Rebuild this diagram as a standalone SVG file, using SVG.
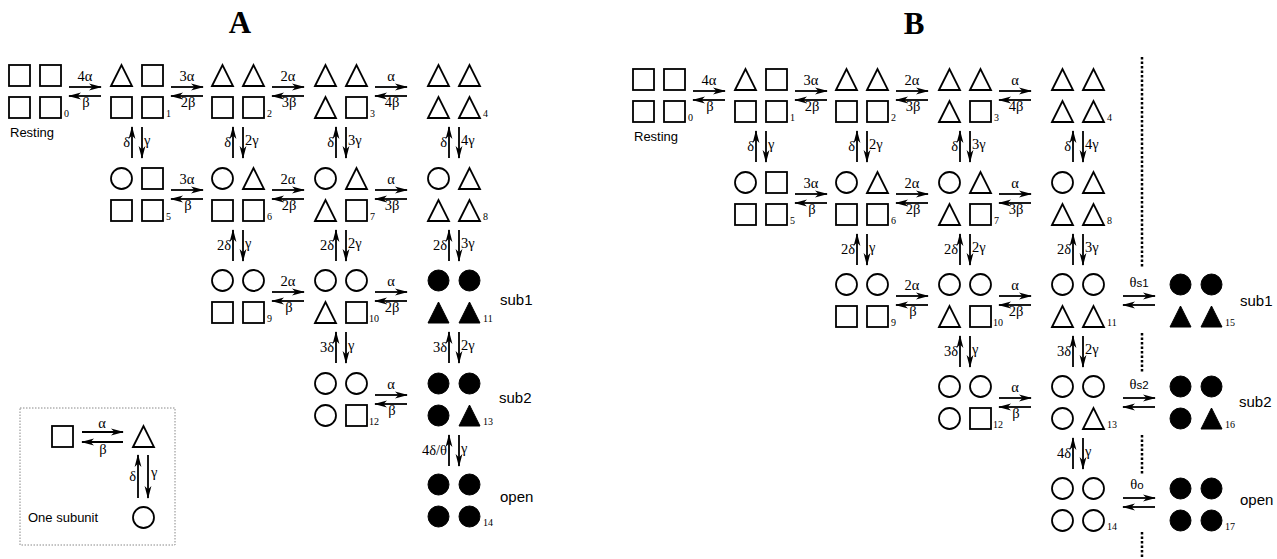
<svg xmlns="http://www.w3.org/2000/svg" xmlns:xlink="http://www.w3.org/1999/xlink" width="1277" height="559" viewBox="0 0 1277 559">
<style>
.s{fill:none;stroke:#000;stroke-width:1.8}
.f{fill:#000;stroke:#000;stroke-width:1}
.ar{stroke:#000;stroke-width:1.8;fill:none;marker-end:url(#ah)}
.g{font-family:"Liberation Serif",serif;font-size:14.5px;fill:#000}
.e{text-anchor:end}
.m{text-anchor:middle}
.n{font-family:"Liberation Serif",serif;font-size:10px;fill:#000}
.l{font-family:"Liberation Sans",sans-serif;font-size:15px;fill:#000}
.r{font-family:"Liberation Sans",sans-serif;font-size:13px;fill:#000}
.t{font-family:"Liberation Serif",serif;font-size:31px;font-weight:bold;fill:#000;text-anchor:middle}
.d{fill:none;stroke:#000;stroke-width:2.5;stroke-dasharray:2.5 2}
.bx{fill:none;stroke:#888;stroke-width:1;stroke-dasharray:1.5 1.5}
.ss{font-family:"Liberation Sans",sans-serif;font-size:11.5px}
</style>
<defs>
<rect id="sq" width="21" height="21"/>
<polygon id="tr" points="0,21 10.5,0 21,21"/>
<circle id="ci" cx="10.5" cy="10.5" r="10.5"/>
<marker id="ah" markerUnits="userSpaceOnUse" markerWidth="13" markerHeight="8" viewBox="0 0 13 8" refX="12" refY="4" orient="auto"><path d="M0,0.6 L13,4 L0,7.4 L3.5,4 z" fill="#000"/></marker>
</defs>
<rect width="1277" height="559" fill="#fff"/>
<text class="t" x="240" y="33">A</text>
<text class="t" x="914" y="34">B</text>

<!-- Panel A states -->
<g id="a0" transform="translate(9,65)"><use href="#sq" class="s"/><use href="#sq" class="s" x="31"/><use href="#sq" class="s" y="32"/><use href="#sq" class="s" x="31" y="32"/><text class="n" x="55" y="52">0</text></g>
<g id="a1" transform="translate(111,65)"><use href="#tr" class="s"/><use href="#sq" class="s" x="31"/><use href="#sq" class="s" y="32"/><use href="#sq" class="s" x="31" y="32"/><text class="n" x="55" y="52">1</text></g>
<g id="a2" transform="translate(212,65)"><use href="#tr" class="s"/><use href="#tr" class="s" x="31"/><use href="#sq" class="s" y="32"/><use href="#sq" class="s" x="31" y="32"/><text class="n" x="55" y="52">2</text></g>
<g id="a3" transform="translate(315,65)"><use href="#tr" class="s"/><use href="#tr" class="s" x="31"/><use href="#tr" class="s" y="32"/><use href="#sq" class="s" x="31" y="32"/><text class="n" x="55" y="52">3</text></g>
<g id="a4" transform="translate(428,65)"><use href="#tr" class="s"/><use href="#tr" class="s" x="31"/><use href="#tr" class="s" y="32"/><use href="#tr" class="s" x="31" y="32"/><text class="n" x="55" y="52">4</text></g>
<g id="a5" transform="translate(111,168)"><use href="#ci" class="s"/><use href="#sq" class="s" x="31"/><use href="#sq" class="s" y="32"/><use href="#sq" class="s" x="31" y="32"/><text class="n" x="55" y="52">5</text></g>
<g id="a6" transform="translate(212,168)"><use href="#ci" class="s"/><use href="#tr" class="s" x="31"/><use href="#sq" class="s" y="32"/><use href="#sq" class="s" x="31" y="32"/><text class="n" x="55" y="52">6</text></g>
<g id="a7" transform="translate(315,168)"><use href="#ci" class="s"/><use href="#tr" class="s" x="31"/><use href="#tr" class="s" y="32"/><use href="#sq" class="s" x="31" y="32"/><text class="n" x="55" y="52">7</text></g>
<g id="a8" transform="translate(428,168)"><use href="#ci" class="s"/><use href="#tr" class="s" x="31"/><use href="#tr" class="s" y="32"/><use href="#tr" class="s" x="31" y="32"/><text class="n" x="55" y="52">8</text></g>
<g id="a9" transform="translate(212,270)"><use href="#ci" class="s"/><use href="#ci" class="s" x="31"/><use href="#sq" class="s" y="32"/><use href="#sq" class="s" x="31" y="32"/><text class="n" x="55" y="52">9</text></g>
<g id="a10" transform="translate(315,270)"><use href="#ci" class="s"/><use href="#ci" class="s" x="31"/><use href="#tr" class="s" y="32"/><use href="#sq" class="s" x="31" y="32"/><text class="n" x="54" y="52">10</text></g>
<g id="a11" transform="translate(428,270)"><use href="#ci" class="f"/><use href="#ci" class="f" x="31"/><use href="#tr" class="f" y="32"/><use href="#tr" class="f" x="31" y="32"/><text class="n" x="55" y="52">11</text></g>
<g id="a12" transform="translate(315,373)"><use href="#ci" class="s"/><use href="#ci" class="s" x="31"/><use href="#ci" class="s" y="32"/><use href="#sq" class="s" x="31" y="32"/><text class="n" x="54" y="52">12</text></g>
<g id="a13" transform="translate(428,373)"><use href="#ci" class="f"/><use href="#ci" class="f" x="31"/><use href="#ci" class="f" y="32"/><use href="#tr" class="f" x="31" y="32"/><text class="n" x="55" y="52">13</text></g>
<g id="a14" transform="translate(428,474)"><use href="#ci" class="f"/><use href="#ci" class="f" x="31"/><use href="#ci" class="f" y="32"/><use href="#ci" class="f" x="31" y="32"/><text class="n" x="55" y="52">14</text></g>
<g id="a-labels">
<text class="r" x="10" y="137">Resting</text>
<text class="l" x="500" y="305">sub1</text>
<text class="l" x="499" y="403">sub2</text>
<text class="l" x="500" y="502">open</text>
</g>

<!-- Panel A legend -->
<g id="legend">
<rect class="bx" x="20" y="408" width="155" height="137"/>
<use href="#sq" class="s" x="52" y="426"/>
<use href="#tr" class="s" x="133" y="426"/>
<use href="#ci" class="s" x="133" y="507"/>
<line class="ar" x1="82" y1="432" x2="123" y2="432"/>
<line class="ar" x1="123" y1="442" x2="82" y2="442"/>
<line class="ar" x1="138" y1="498" x2="138" y2="455"/>
<line class="ar" x1="148" y1="455" x2="148" y2="498"/>
<text class="g m" x="102" y="428">α</text>
<text class="g m" x="103" y="454">β</text>
<text class="g e" x="136" y="481">δ</text>
<text class="g" x="151" y="477">γ</text>
<text class="r" x="28" y="522">One subunit</text>
</g>

<!-- Panel B states -->
<g id="b0" transform="translate(633,69)"><use href="#sq" class="s"/><use href="#sq" class="s" x="31"/><use href="#sq" class="s" y="32"/><use href="#sq" class="s" x="31" y="32"/><text class="n" x="55" y="52">0</text></g>
<g id="b1" transform="translate(735,69)"><use href="#tr" class="s"/><use href="#sq" class="s" x="31"/><use href="#sq" class="s" y="32"/><use href="#sq" class="s" x="31" y="32"/><text class="n" x="55" y="52">1</text></g>
<g id="b2" transform="translate(836,69)"><use href="#tr" class="s"/><use href="#tr" class="s" x="31"/><use href="#sq" class="s" y="32"/><use href="#sq" class="s" x="31" y="32"/><text class="n" x="55" y="52">2</text></g>
<g id="b3" transform="translate(939,69)"><use href="#tr" class="s"/><use href="#tr" class="s" x="31"/><use href="#tr" class="s" y="32"/><use href="#sq" class="s" x="31" y="32"/><text class="n" x="55" y="52">3</text></g>
<g id="b4" transform="translate(1052,69)"><use href="#tr" class="s"/><use href="#tr" class="s" x="31"/><use href="#tr" class="s" y="32"/><use href="#tr" class="s" x="31" y="32"/><text class="n" x="55" y="52">4</text></g>
<g id="b5" transform="translate(735,172)"><use href="#ci" class="s"/><use href="#sq" class="s" x="31"/><use href="#sq" class="s" y="32"/><use href="#sq" class="s" x="31" y="32"/><text class="n" x="55" y="52">5</text></g>
<g id="b6" transform="translate(836,172)"><use href="#ci" class="s"/><use href="#tr" class="s" x="31"/><use href="#sq" class="s" y="32"/><use href="#sq" class="s" x="31" y="32"/><text class="n" x="55" y="52">6</text></g>
<g id="b7" transform="translate(939,172)"><use href="#ci" class="s"/><use href="#tr" class="s" x="31"/><use href="#tr" class="s" y="32"/><use href="#sq" class="s" x="31" y="32"/><text class="n" x="55" y="52">7</text></g>
<g id="b8" transform="translate(1052,172)"><use href="#ci" class="s"/><use href="#tr" class="s" x="31"/><use href="#tr" class="s" y="32"/><use href="#tr" class="s" x="31" y="32"/><text class="n" x="55" y="52">8</text></g>
<g id="b9" transform="translate(836,274)"><use href="#ci" class="s"/><use href="#ci" class="s" x="31"/><use href="#sq" class="s" y="32"/><use href="#sq" class="s" x="31" y="32"/><text class="n" x="55" y="52">9</text></g>
<g id="b10" transform="translate(939,274)"><use href="#ci" class="s"/><use href="#ci" class="s" x="31"/><use href="#tr" class="s" y="32"/><use href="#sq" class="s" x="31" y="32"/><text class="n" x="54" y="52">10</text></g>
<g id="b11" transform="translate(1052,274)"><use href="#ci" class="s"/><use href="#ci" class="s" x="31"/><use href="#tr" class="s" y="32"/><use href="#tr" class="s" x="31" y="32"/><text class="n" x="55" y="52">11</text></g>
<g id="b12" transform="translate(939,376)"><use href="#ci" class="s"/><use href="#ci" class="s" x="31"/><use href="#ci" class="s" y="32"/><use href="#sq" class="s" x="31" y="32"/><text class="n" x="54" y="52">12</text></g>
<g id="b13" transform="translate(1052,376)"><use href="#ci" class="s"/><use href="#ci" class="s" x="31"/><use href="#ci" class="s" y="32"/><use href="#tr" class="s" x="31" y="32"/><text class="n" x="55" y="52">13</text></g>
<g id="b14" transform="translate(1052,478)"><use href="#ci" class="s"/><use href="#ci" class="s" x="31"/><use href="#ci" class="s" y="32"/><use href="#ci" class="s" x="31" y="32"/><text class="n" x="55" y="52">14</text></g>
<g id="b15" transform="translate(1170,274)"><use href="#ci" class="f"/><use href="#ci" class="f" x="31"/><use href="#tr" class="f" y="32"/><use href="#tr" class="f" x="31" y="32"/><text class="n" x="55" y="52">15</text></g>
<g id="b16" transform="translate(1170,376)"><use href="#ci" class="f"/><use href="#ci" class="f" x="31"/><use href="#ci" class="f" y="32"/><use href="#tr" class="f" x="31" y="32"/><text class="n" x="55" y="52">16</text></g>
<g id="b17" transform="translate(1170,478)"><use href="#ci" class="f"/><use href="#ci" class="f" x="31"/><use href="#ci" class="f" y="32"/><use href="#ci" class="f" x="31" y="32"/><text class="n" x="55" y="52">17</text></g>
<g id="b-labels">
<text class="r" x="634" y="141">Resting</text>
<text class="l" x="1240" y="306">sub1</text>
<text class="l" x="1239" y="407">sub2</text>
<text class="l" x="1240" y="505">open</text>
</g>
<g id="divider">
<line class="d" x1="1142" y1="57" x2="1142" y2="268"/>
<line class="d" x1="1142" y1="333" x2="1142" y2="372"/>
<line class="d" x1="1142" y1="435" x2="1142" y2="475"/>
<line class="d" x1="1142" y1="532" x2="1142" y2="559"/>
</g>

<!-- Connectors -->
<g id="connectors">
<line class="ar" x1="69" y1="87" x2="101" y2="87"/><line class="ar" x1="101" y1="96" x2="69" y2="96"/>
<line class="ar" x1="171" y1="87" x2="203" y2="87"/><line class="ar" x1="203" y1="96" x2="171" y2="96"/>
<line class="ar" x1="272" y1="87" x2="304" y2="87"/><line class="ar" x1="304" y1="96" x2="272" y2="96"/>
<line class="ar" x1="375" y1="87" x2="407" y2="87"/><line class="ar" x1="407" y1="96" x2="375" y2="96"/>
<line class="ar" x1="171" y1="190" x2="203" y2="190"/><line class="ar" x1="203" y1="199" x2="171" y2="199"/>
<line class="ar" x1="272" y1="190" x2="304" y2="190"/><line class="ar" x1="304" y1="199" x2="272" y2="199"/>
<line class="ar" x1="375" y1="190" x2="407" y2="190"/><line class="ar" x1="407" y1="199" x2="375" y2="199"/>
<line class="ar" x1="272" y1="292" x2="304" y2="292"/><line class="ar" x1="304" y1="301" x2="272" y2="301"/>
<line class="ar" x1="375" y1="292" x2="407" y2="292"/><line class="ar" x1="407" y1="301" x2="375" y2="301"/>
<line class="ar" x1="375" y1="395" x2="407" y2="395"/><line class="ar" x1="407" y1="404" x2="375" y2="404"/>
<line class="ar" x1="132" y1="158" x2="132" y2="127"/><line class="ar" x1="142" y1="127" x2="142" y2="158"/>
<line class="ar" x1="233" y1="158" x2="233" y2="127"/><line class="ar" x1="243" y1="127" x2="243" y2="158"/>
<line class="ar" x1="336" y1="158" x2="336" y2="127"/><line class="ar" x1="346" y1="127" x2="346" y2="158"/>
<line class="ar" x1="449" y1="158" x2="449" y2="127"/><line class="ar" x1="459" y1="127" x2="459" y2="158"/>
<line class="ar" x1="233" y1="261" x2="233" y2="230"/><line class="ar" x1="243" y1="230" x2="243" y2="261"/>
<line class="ar" x1="336" y1="261" x2="336" y2="230"/><line class="ar" x1="346" y1="230" x2="346" y2="261"/>
<line class="ar" x1="449" y1="261" x2="449" y2="230"/><line class="ar" x1="459" y1="230" x2="459" y2="261"/>
<line class="ar" x1="336" y1="363" x2="336" y2="332"/><line class="ar" x1="346" y1="332" x2="346" y2="363"/>
<line class="ar" x1="449" y1="363" x2="449" y2="332"/><line class="ar" x1="459" y1="332" x2="459" y2="363"/>
<line class="ar" x1="449" y1="466" x2="449" y2="435"/><line class="ar" x1="459" y1="435" x2="459" y2="466"/>
<line class="ar" x1="693" y1="91" x2="725" y2="91"/><line class="ar" x1="725" y1="100" x2="693" y2="100"/>
<line class="ar" x1="795" y1="91" x2="827" y2="91"/><line class="ar" x1="827" y1="100" x2="795" y2="100"/>
<line class="ar" x1="896" y1="91" x2="928" y2="91"/><line class="ar" x1="928" y1="100" x2="896" y2="100"/>
<line class="ar" x1="999" y1="91" x2="1031" y2="91"/><line class="ar" x1="1031" y1="100" x2="999" y2="100"/>
<line class="ar" x1="795" y1="194" x2="827" y2="194"/><line class="ar" x1="827" y1="203" x2="795" y2="203"/>
<line class="ar" x1="896" y1="194" x2="928" y2="194"/><line class="ar" x1="928" y1="203" x2="896" y2="203"/>
<line class="ar" x1="999" y1="194" x2="1031" y2="194"/><line class="ar" x1="1031" y1="203" x2="999" y2="203"/>
<line class="ar" x1="896" y1="296" x2="928" y2="296"/><line class="ar" x1="928" y1="305" x2="896" y2="305"/>
<line class="ar" x1="999" y1="296" x2="1031" y2="296"/><line class="ar" x1="1031" y1="305" x2="999" y2="305"/>
<line class="ar" x1="999" y1="398" x2="1031" y2="398"/><line class="ar" x1="1031" y1="407" x2="999" y2="407"/>
<line class="ar" x1="1123" y1="296" x2="1155" y2="296"/><line class="ar" x1="1155" y1="305" x2="1123" y2="305"/>
<line class="ar" x1="1123" y1="398" x2="1155" y2="398"/><line class="ar" x1="1155" y1="407" x2="1123" y2="407"/>
<line class="ar" x1="1123" y1="498" x2="1155" y2="498"/><line class="ar" x1="1155" y1="507" x2="1123" y2="507"/>
<line class="ar" x1="756" y1="162" x2="756" y2="131"/><line class="ar" x1="766" y1="131" x2="766" y2="162"/>
<line class="ar" x1="857" y1="162" x2="857" y2="131"/><line class="ar" x1="867" y1="131" x2="867" y2="162"/>
<line class="ar" x1="960" y1="162" x2="960" y2="131"/><line class="ar" x1="970" y1="131" x2="970" y2="162"/>
<line class="ar" x1="1073" y1="162" x2="1073" y2="131"/><line class="ar" x1="1083" y1="131" x2="1083" y2="162"/>
<line class="ar" x1="857" y1="265" x2="857" y2="234"/><line class="ar" x1="867" y1="234" x2="867" y2="265"/>
<line class="ar" x1="960" y1="265" x2="960" y2="234"/><line class="ar" x1="970" y1="234" x2="970" y2="265"/>
<line class="ar" x1="1073" y1="265" x2="1073" y2="234"/><line class="ar" x1="1083" y1="234" x2="1083" y2="265"/>
<line class="ar" x1="960" y1="367" x2="960" y2="336"/><line class="ar" x1="970" y1="336" x2="970" y2="367"/>
<line class="ar" x1="1073" y1="367" x2="1073" y2="336"/><line class="ar" x1="1083" y1="336" x2="1083" y2="367"/>
<line class="ar" x1="1073" y1="469" x2="1073" y2="438"/><line class="ar" x1="1083" y1="438" x2="1083" y2="469"/>
</g>

<!-- Rate labels -->
<g id="rate-labels">
<text class="g m" x="85" y="81">4α</text><text class="g m" x="86" y="107">β</text>
<text class="g m" x="187" y="81">3α</text><text class="g m" x="188" y="107">2β</text>
<text class="g m" x="288" y="81">2α</text><text class="g m" x="289" y="107">3β</text>
<text class="g m" x="391" y="81">α</text><text class="g m" x="392" y="107">4β</text>
<text class="g m" x="187" y="184">3α</text><text class="g m" x="188" y="210">β</text>
<text class="g m" x="288" y="184">2α</text><text class="g m" x="289" y="210">2β</text>
<text class="g m" x="391" y="184">α</text><text class="g m" x="392" y="210">3β</text>
<text class="g m" x="288" y="286">2α</text><text class="g m" x="289" y="312">β</text>
<text class="g m" x="391" y="286">α</text><text class="g m" x="392" y="312">2β</text>
<text class="g m" x="391" y="389">α</text><text class="g m" x="392" y="415">β</text>
<text class="g e" x="130" y="147">δ</text><text class="g" x="144" y="145">γ</text>
<text class="g e" x="231" y="147">δ</text><text class="g" x="245" y="145">2γ</text>
<text class="g e" x="334" y="147">δ</text><text class="g" x="348" y="145">3γ</text>
<text class="g e" x="447" y="147">δ</text><text class="g" x="461" y="145">4γ</text>
<text class="g e" x="231" y="250">2δ</text><text class="g" x="245" y="248">γ</text>
<text class="g e" x="334" y="250">2δ</text><text class="g" x="348" y="248">2γ</text>
<text class="g e" x="447" y="250">2δ</text><text class="g" x="461" y="248">3γ</text>
<text class="g e" x="334" y="352">3δ</text><text class="g" x="348" y="350">γ</text>
<text class="g e" x="447" y="352">3δ</text><text class="g" x="461" y="350">2γ</text>
<text class="g e" x="447" y="455">4δ/θ</text><text class="g" x="461" y="453">γ</text>

<text class="g m" x="709" y="85">4α</text><text class="g m" x="710" y="111">β</text>
<text class="g m" x="811" y="85">3α</text><text class="g m" x="812" y="111">2β</text>
<text class="g m" x="912" y="85">2α</text><text class="g m" x="913" y="111">3β</text>
<text class="g m" x="1015" y="85">α</text><text class="g m" x="1016" y="111">4β</text>
<text class="g m" x="811" y="188">3α</text><text class="g m" x="812" y="214">β</text>
<text class="g m" x="912" y="188">2α</text><text class="g m" x="913" y="214">2β</text>
<text class="g m" x="1015" y="188">α</text><text class="g m" x="1016" y="214">3β</text>
<text class="g m" x="912" y="290">2α</text><text class="g m" x="913" y="316">β</text>
<text class="g m" x="1015" y="290">α</text><text class="g m" x="1016" y="316">2β</text>
<text class="g m" x="1015" y="392">α</text><text class="g m" x="1016" y="418">β</text>
<text class="g e" x="754" y="151">δ</text><text class="g" x="768" y="149">γ</text>
<text class="g e" x="855" y="151">δ</text><text class="g" x="869" y="149">2γ</text>
<text class="g e" x="958" y="151">δ</text><text class="g" x="972" y="149">3γ</text>
<text class="g e" x="1071" y="151">δ</text><text class="g" x="1085" y="149">4γ</text>
<text class="g e" x="855" y="254">2δ</text><text class="g" x="869" y="252">γ</text>
<text class="g e" x="958" y="254">2δ</text><text class="g" x="972" y="252">2γ</text>
<text class="g e" x="1071" y="254">2δ</text><text class="g" x="1085" y="252">3γ</text>
<text class="g e" x="958" y="356">3δ</text><text class="g" x="972" y="354">γ</text>
<text class="g e" x="1071" y="356">3δ</text><text class="g" x="1085" y="354">2γ</text>
<text class="g e" x="1071" y="458">4δ</text><text class="g" x="1085" y="456">γ</text>
<text class="g m" x="1139" y="287">θ<tspan class="ss">s1</tspan></text>
<text class="g m" x="1139" y="389">θ<tspan class="ss">s2</tspan></text>
<text class="g m" x="1137" y="489">θ<tspan class="ss">o</tspan></text>
</g>
</svg>
